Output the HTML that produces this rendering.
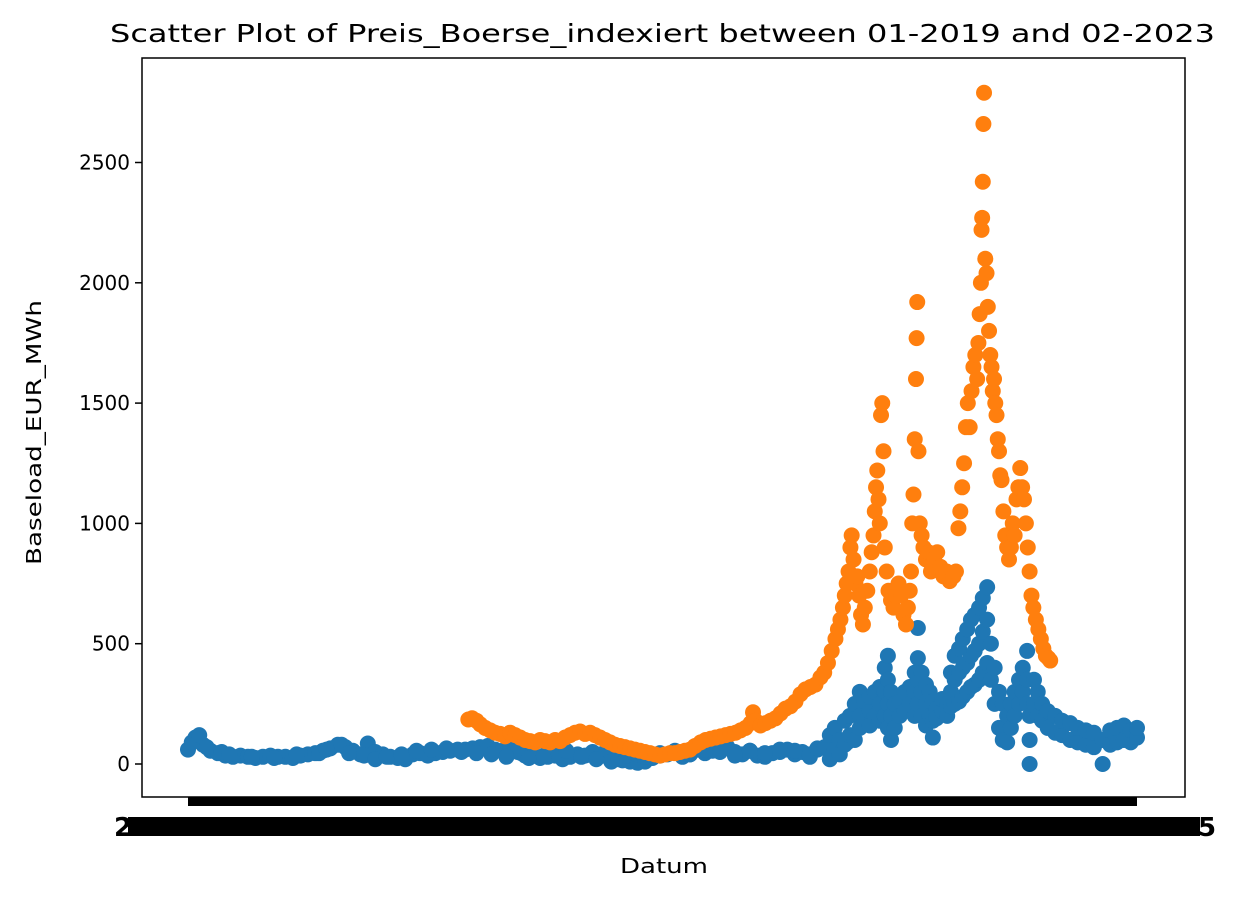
<!DOCTYPE html>
<html><head><meta charset="utf-8"><style>
body{margin:0;background:#fff;}
svg{display:block;font-family:"DejaVu Sans","Liberation Sans",sans-serif;}
</style></head><body>
<svg id="chart" width="1235" height="898" viewBox="0 0 1235 898">
<text x="110" y="42" font-size="25" textLength="1105" lengthAdjust="spacingAndGlyphs">Scatter Plot of Preis_Boerse_indexiert between 01-2019 and 02-2023</text>
<g id="yticks"></g>
<g id="marks"></g>
<rect x="142" y="58" width="1043" height="739" fill="none" stroke="#000" stroke-width="1.5"/>
<rect x="188" y="797" width="949" height="9" fill="#000"/>
<text x="114" y="836" font-size="26" font-weight="bold">2</text>
<rect x="128" y="817" width="1072" height="19" fill="#000"/>
<text x="1198" y="836" font-size="26" font-weight="bold">5</text>
<text x="620" y="873" font-size="20" textLength="88" lengthAdjust="spacingAndGlyphs">Datum</text>
<text transform="translate(41,565) rotate(-90)" font-size="20" textLength="265" lengthAdjust="spacingAndGlyphs">Baseload_EUR_MWh</text>
</svg>
<script>
const yTicks=[0,500,1000,1500,2000,2500];
const blueStart=0, blueStep=12;
const blueValues=[60,110,80,55,45,35,30,35,30,25,30,35,30,30,25,35,40,45,55,65,80,
70,55,40,85,50,40,30,25,20,40,45,35,45,50,55,60,60,65,70,75,
60,55,65,50,35,40,25,30,35,20,30,40,35,50,40,30,25,15,10,5,
10,25,35,40,50,30,40,60,45,55,60,70,50,40,55,35,30,45,50,60,
40,50,30,60,70,80,100,90];
const blueExtraDays=[6,18,30,54,66,102,138,174,210,222,246,258,282,300,318,342,366,390,414,438,462,486,510,534,546,570,594,606,630,654,678,690,702,714,732,756,780,804,828,852,876,900,924,948,972,996,1008,1020,
1028,1028,1036,1036,1044,1044,1052,1052,1060,1060,1068,1068,1076,1076,1076,1084,1084,1092,1092,1092,1100,1100,1108,1108,1108,1116,1116,1116,1121,1121,1121,1121,1126,1126,1126,1132,1132,1140,1140,1148,1148,1156,1156,1164,1164,1164,1169,1169,1169,1169,1175,1175,1175,1182,1182,1182,1188,1188,1193,1193,1193,1199,1199,1208,1208,1216,1216,1222,1222,1222,1228,1228,1228,1235,1235,1235,1241,1241,1241,1248,1248,1248,1254,1254,1254,1260,1260,1260,1267,1267,1267,1273,1273,1273,1280,1280,1280,1286,1286,1292,1292,1299,1299,1305,1305,1312,1312,1318,1318,1324,1324,1331,1331,1337,1337,1344,1344,1344,1348,1348,1348,1355,1355,1361,1361,1368,1368,1377,1377,1389,1389,1400,1400,1413,1413,1425,1425,1438,1438,1451,1451,1465,1465,1477,1477,1488,1488,1499,1499,1510,1510,1520,1520];
const blueExtraValues=[90,120,70,50,40,30,25,40,45,60,80,45,35,20,30,40,55,60,65,50,45,40,30,45,25,35,40,55,30,20,10,20,35,45,30,45,55,40,60,50,35,55,45,60,55,40,65,70,
20,120,60,150,40,100,80,180,120,200,100,250,300,200,150,180,260,220,280,160,200,300,250,320,180,300,400,200,450,350,250,150,100,200,300,150,250,200,260,220,300,250,320,300,380,200,565,440,350,250,300,380,200,250,330,160,200,300,110,180,260,230,190,220,270,200,250,240,300,380,250,350,450,260,380,480,280,400,520,300,420,560,320,450,600,330,470,620,350,500,650,380,550,690,420,600,735,350,500,250,400,150,300,100,250,90,200,150,250,200,300,250,350,300,400,470,350,250,0,100,200,250,350,200,300,180,250,150,220,130,200,120,180,100,170,90,150,80,140,70,130,0,100,80,140,90,150,100,160,90,140,110,150];
const orangeDays=[449,455,462,468,476,484,492,500,508,516,524,532,540,548,556,564,572,580,588,596,604,612,620,628,636,644,652,660,668,676,684,692,700,708,716,724,732,740,748,756,764,772,780,788,796,804,812,821,829,837,845,853,861,869,877,885,893,901,905,909,917,925,933,941,949,957,965,973,981,989,997,1005,1013,1019,1025,1031,1037,1041,1045,1049,1052,1055,1058,1061,1063,1066,1069,1072,1075,1078,1081,1084,1088,1092,1095,1098,1100,1102,1104,1106,1108,1110,1112,1114,1116,1119,1122,1126,1130,1134,1138,1142,1146,1150,1153,1156,1158,1160,1162,1164,1166,1167,1168,1170,1172,1175,1178,1182,1186,1190,1195,1200,1205,1210,1215,1220,1226,1230,1234,1237,1240,1243,1246,1249,1252,1255,1258,1261,1264,1266,1268,1270,1271,1272,1273,1274,1275,1277,1279,1281,1283,1285,1287,1289,1291,1293,1295,1297,1299,1301,1303,1306,1309,1312,1315,1318,1321,1324,1327,1330,1333,1336,1339,1342,1345,1348,1351,1354,1358,1362,1366,1370,1374,1378,1381];
const orangeValues=[185,190,180,165,150,140,130,125,115,130,120,110,100,95,90,100,95,90,100,95,110,120,130,135,125,130,120,110,100,90,80,75,70,65,60,55,50,45,40,35,40,45,45,50,55,60,75,90,100,105,110,115,120,125,130,140,150,170,215,180,160,170,180,190,210,230,240,260,290,310,320,330,360,380,420,470,520,560,600,650,700,750,800,900,950,850,750,780,700,620,580,650,720,800,880,950,1050,1150,1220,1100,1000,1450,1500,1300,900,800,720,680,650,700,750,700,620,580,650,720,800,1000,1120,1350,1600,1770,1920,1300,1000,950,900,850,880,800,850,880,820,780,800,760,780,800,980,1050,1150,1250,1400,1500,1400,1550,1650,1700,1600,1750,1870,2000,2220,2270,2420,2660,2790,2100,2040,1900,1800,1700,1650,1550,1600,1500,1450,1350,1300,1200,1180,1050,950,900,850,900,1000,950,1100,1150,1230,1150,1100,1000,900,800,700,650,600,560,520,480,450,440,430];
const NS="http://www.w3.org/2000/svg";
const xScale=d=>188+d*(949/1520);
const yScale=v=>764-v*(120.3/500);
const yt=document.getElementById('yticks');
yTicks.forEach(t=>{
  const l=document.createElementNS(NS,'line');
  l.setAttribute('x1',135);l.setAttribute('x2',142);
  l.setAttribute('y1',yScale(t));l.setAttribute('y2',yScale(t));
  l.setAttribute('stroke','#000');l.setAttribute('stroke-width','1.5');
  
  
  yt.appendChild(l);
  const tx=document.createElementNS(NS,'text');
  tx.setAttribute('x',130);tx.setAttribute('y',yScale(t)+7);
  tx.setAttribute('text-anchor','end');tx.setAttribute('font-size','20');
  tx.textContent=t;
  
  
  yt.appendChild(tx);
});
const mk=document.getElementById('marks');
function dot(x,y,c,name){
  if(!isFinite(x)||!isFinite(y)) return;
  const c1=document.createElementNS(NS,'circle');
  c1.setAttribute('cx',x);c1.setAttribute('cy',y);c1.setAttribute('r',8);c1.setAttribute('fill',c);
  
  
  mk.appendChild(c1);
}
blueValues.forEach((v,i)=>dot(xScale(blueStart+i*blueStep),yScale(v),'#1f77b4','blue-point'));
blueExtraValues.forEach((v,i)=>dot(xScale(blueExtraDays[i]),yScale(v),'#1f77b4','blue-point'));
orangeValues.forEach((v,i)=>dot(xScale(orangeDays[i]),yScale(v),'#ff7f0e','orange-point'));
</script>
</body></html>
